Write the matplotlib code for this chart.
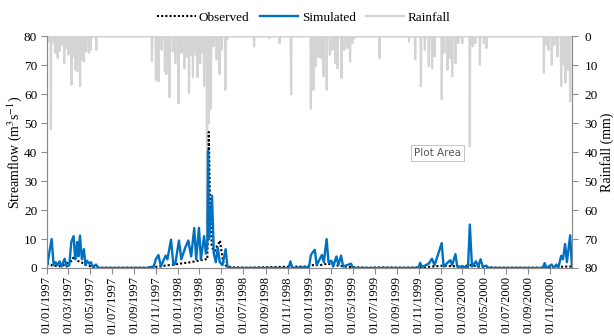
import numpy as np
import pandas as pd
import matplotlib
matplotlib.use('Agg')
from matplotlib import pyplot as plt
import matplotlib.dates as mdates

plt.rcParams['font.family'] = ['Liberation Serif', 'DejaVu Serif']
plt.rcParams['mathtext.fontset'] = 'stix'

start = pd.Timestamp('1997-01-01')
end = pd.Timestamp('2000-12-31')

# simulated streamflow: day offset from 01/01/1997, m3/s
sim_days = [0, 13, 18.6, 24, 29.5, 35, 40.4, 49, 54.6, 62, 67.7, 74, 78.6, 84, 87.4, 91.8, 97,
            102.7, 107, 111.4, 117, 122, 127.8, 136.5, 142,
            280, 286, 297, 302.6, 310, 316.8, 330, 335, 345, 351.7, 357, 367, 373.6, 384.5, 393,
            401, 409.6, 415, 422.7, 428, 437, 442, 446, 448, 451, 459, 464, 469.7, 475, 480.6,
            488, 497, 502, 507,
            672, 677, 682,
            728.6, 734, 739.5, 745, 750, 764.6, 770, 777.7, 783, 791, 796, 805, 810.5, 818,
            823.6, 845.4, 851,
            1033, 1037.7, 1043, 1061.7, 1070.5, 1078, 1097.8, 1103, 1121.8, 1127, 1136, 1141,
            1171, 1176, 1182, 1193, 1199, 1206, 1212, 1222, 1228,
            1379, 1384, 1389, 1403.6, 1409, 1416.7, 1422, 1430, 1435, 1441, 1446, 1455, 1460]
sim_vals = [0.5, 10, 1, 2, 1, 2.3, 0.5, 3.2, 0.5, 1, 9, 11, 3, 9, 4, 11.2, 3,
            6.5, 1, 2.5, 1.5, 2, 0.3, 1.2, 0,
            0, 0.3, 0.5, 3, 4.5, 0.5, 4.3, 3, 9.8, 1, 1.5, 9.5, 3, 7, 9.5,
            4, 13.8, 3, 13.9, 3, 11, 5, 8, 40.5, 10, 25, 5, 2, 7, 2,
            1, 6.5, 0.3, 0,
            0, 2.3, 0,
            0.3, 4.5, 5.5, 6.3, 1, 4.5, 2, 10, 2, 2.5, 0.5, 4, 1, 4.3,
            0.5, 1.5, 0,
            0, 1.8, 0.3, 1.5, 3.2, 1, 8.6, 0.5, 2.7, 1, 4.8, 0.5,
            0.3, 15, 0.5, 2.3, 0.5, 3, 0.5, 0.8, 0,
            0, 1.7, 0, 1.2, 0, 1.2, 0, 4.2, 3, 8.3, 2, 11.3, 0.5]

# observed streamflow
obs_days = [0, 8, 15, 40, 70, 75, 85, 95, 110, 130, 150, 280, 310, 340, 370, 400, 420, 440,
            446, 450, 453, 458, 465, 470, 476, 481, 490, 500, 520, 560, 650, 700, 720, 740,
            760, 780, 800, 830, 860, 900, 930, 1000, 1050, 1100, 1150, 1180, 1200, 1250,
            1400, 1440, 1460]
obs_vals = [1.6, 1.5, 0.8, 0.6, 2.5, 4, 2.5, 2, 1, 0.3, 0.1, 0.1, 0.5, 1, 1.5, 2, 2.5, 3,
            3, 47, 25, 8, 5, 7, 8, 9.5, 2, 0.5, 0.2, 0.1, 0.4, 0.5, 0.5, 1,
            1, 1.5, 1, 0.5, 0.2, 0.1, 0.2, 0.1, 0.3, 0.8, 0.5, 1, 0.5, 0.1,
            0.1, 0.5, 0.5]

# rainfall events (mm), all other days are zero
rain_days = [5, 11, 19, 24, 30, 35, 40, 48, 55, 60, 68, 73, 79, 84, 92, 98, 103, 109, 117,
             122, 137,
             292, 303, 310, 319, 328, 332, 341, 350, 357, 366, 374, 382, 388, 395, 401, 406,
             414, 419, 426, 430, 437, 445, 450, 456, 463, 472, 480, 486, 496, 501,
             576, 619, 647, 679,
             734, 741, 747, 754, 761, 769, 778, 787, 794, 802, 808, 819, 827, 836, 843, 849,
             856, 925,
             1007, 1024, 1040, 1051, 1062, 1071, 1078, 1098, 1105, 1114, 1122, 1127, 1136,
             1144, 1155, 1176, 1184, 1191, 1204, 1215, 1222,
             1382, 1389, 1395, 1404, 1411, 1420, 1430, 1436, 1442, 1450, 1455]
rain_vals = [1.7, 32, 2.3, 5.7, 7.5, 5, 2.9, 9.2, 4, 6.3, 16.7, 6.9, 11.5, 12, 17.2, 8, 8.6,
             5.2, 5.7, 4.6, 4.6,
             8.6, 15, 15.5, 4.6, 12, 13, 21, 5.2, 9.2, 23, 5.7, 11, 6.9, 19.5, 6.3, 14,
             6.3, 14, 9.2, 5.7, 17, 65, 30, 25, 3.4, 8, 13, 4.6, 18.4, 1.1,
             3.4, 0.6, 2.3, 20,
             25, 18.4, 10.3, 6.9, 7.5, 13.8, 18.4, 6.3, 4.6, 9.2, 11, 14.4, 4.6, 4, 8.6, 2.3,
             0.6, 7.5,
             1.7, 8, 17.2, 4.6, 10.3, 11, 6.9, 21.8, 5.7, 11.5, 7.5, 13.8, 9.2,
             2.3, 2.3, 38, 3.4, 2.3, 9.8, 2.3, 4,
             12.6, 2.9, 4.6, 9.8, 2.9, 6.9, 17.2, 9.8, 16, 11.5, 22.4]

days_all = pd.date_range(start, end, freq='D')
rain = pd.Series(0.0, index=days_all)
rain.iloc[rain_days] = rain_vals

sim_dates = start + pd.to_timedelta(sim_days, unit='D')
obs_dates = start + pd.to_timedelta(obs_days, unit='D')

tick_dates = pd.date_range('1997-01-01', '2000-11-01', freq='2MS')

fig = plt.figure(figsize=(6.14, 3.36), dpi=100)
ax = fig.add_axes([0.0765, 0.2024, 0.855, 0.689])
ax2 = ax.twinx()
# streamflow drawn over the rainfall
ax.set_zorder(ax2.get_zorder() + 1)
ax.patch.set_visible(False)

rain_line, = ax2.plot(rain.index, rain.values, color='#D4D4D4', lw=1.6, label='Rainfall')
obs_line, = ax.plot(obs_dates, obs_vals, color='black', lw=1.5, ls=(0, (1, 1)), label='Observed')
sim_line, = ax.plot(sim_dates, sim_vals, color='#0070C0', lw=1.7, label='Simulated')

ax.set_xlim(start, end)
ax.set_ylim(0, 80)
ax.set_yticks(range(0, 81, 10))
ax2.set_ylim(80, 0)
ax2.set_yticks(range(0, 81, 10))

ax.set_xticks(tick_dates)
ax.xaxis.set_major_formatter(mdates.DateFormatter('%d/%m/%Y'))
plt.setp(ax.get_xticklabels(), rotation=90)

grey = '#8C8C8C'
for a in (ax, ax2):
    for side in ('left', 'right', 'bottom'):
        a.spines[side].set_color(grey)
    a.spines['top'].set_visible(False)
    a.tick_params(colors=grey, labelcolor='black', labelsize=9.5, length=4, direction='out')
ax.tick_params(axis='y', pad=3)
ax2.tick_params(axis='y', pad=5)
ax.tick_params(axis='x', labelsize=9, pad=2)

ax.set_ylabel('Streamflow (m$^3$s$^{-1}$)', fontsize=10, va='center', ha='center')
ax.yaxis.set_label_coords(-0.061, 0.5)
ax2.set_ylabel('Rainfall (mm)', fontsize=10, rotation=90, va='center', ha='center')
ax2.yaxis.set_label_coords(1.066, 0.5)

fig.legend(handles=[obs_line, sim_line, rain_line], loc='center', bbox_to_anchor=(0.495, 0.947),
           ncol=3, frameon=False, fontsize=9.5, handlelength=2.9, columnspacing=0.8,
           handletextpad=0.25)

fig.text(0.712, 0.545, 'Plot Area', family='DejaVu Sans', fontsize=7.5, color='#555555',
         ha='center', va='center',
         bbox=dict(boxstyle='square,pad=0.3', fc='white', ec='#BBBBBB', lw=0.6))

fig.savefig('out.png', dpi=100)
